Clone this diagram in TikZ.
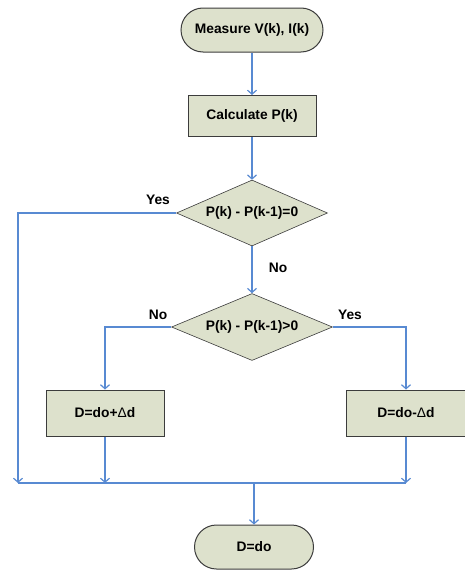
\documentclass[tikz,border=0pt]{standalone}
\usepackage{fontspec}
\setmainfont{Liberation Sans}
\usetikzlibrary{arrows.meta,shapes.geometric,shapes.misc}
\definecolor{boxfill}{RGB}{221,225,204}
\definecolor{flowblue}{RGB}{88,138,210}
\definecolor{boxline}{RGB}{60,60,60}
\tikzset{
	every node/.style={font=\fontsize{13.8}{16}\selectfont\bfseries},
	termbox/.style={rounded rectangle, draw=boxline, line width=1pt, fill=boxfill, minimum height=44pt, inner sep=0pt},
	procbox/.style={rectangle, draw=boxline, line width=1pt, fill=boxfill, minimum height=44pt, inner sep=0pt},
	testbox/.style={diamond, aspect=2.3, draw=boxline, line width=0.6pt, fill=boxfill, inner sep=0pt},
	flow/.style={draw=flowblue, line width=1.5pt, -{Straight Barb[length=4pt,width=9pt,line width=1.2pt]}},
	link/.style={draw=flowblue, line width=1.5pt}
}

\begin{document}
\begin{tikzpicture}[x=1pt,y=-1pt]
		%%%%% START %%%%%
		\useasboundingbox (0, 0) rectangle (465, 570);
		
		\node[termbox, minimum width=142pt] (start) at (252, 30) {Measure V(k), I(k)};
		\node[procbox, minimum width=128pt, minimum height=41pt] (calc) at (252, 116) {Calculate P(k)};
		\node[testbox, minimum width=151pt, minimum height=66pt] (test1) at (252, 213) {P(k) - P(k-1)=0};
		\node[testbox, minimum width=161pt, minimum height=67pt] (test2) at (252, 327) {P(k) - P(k-1)>0};
		\node[procbox, minimum width=118pt, minimum height=46pt] (incr) at (105, 413) {D=do+{\mdseries Δ}d};
		\node[procbox, minimum width=120pt, minimum height=46pt] (decr) at (406, 413) {D=do-{\mdseries Δ}d};
		\node[termbox, minimum width=119pt] (stop) at (254, 547) {D=do};
		
		% branch labels
		\node (yes1) at (158, 200) {Yes};
		\node (no1) at (278, 268) {No};
		\node (no2) at (158, 315) {No};
		\node (yes2) at (350, 315) {Yes};
		
		\coordinate (mleft) at (18, 483);
		\coordinate (mmid) at (254, 483);
		
		\draw[flow] (start) -- (calc);
		\draw[flow] (calc) -- (test1);
		\draw[flow] (test1) -- (test2);
		\draw[flow] (test1.west) -| (mleft);
		\draw[flow] (test2.west) -| (incr);
		\draw[flow] (test2.east) -| (decr);
		\draw[flow] (incr) -- (incr |- mleft);
		\draw[flow] (decr) -- (decr |- mleft);
		\draw[link] (mleft) -- (decr |- mleft);
		\draw[flow] (mmid) -- (stop);
		
		%%%%% END %%%%%
	\end{tikzpicture}
\end{document}
